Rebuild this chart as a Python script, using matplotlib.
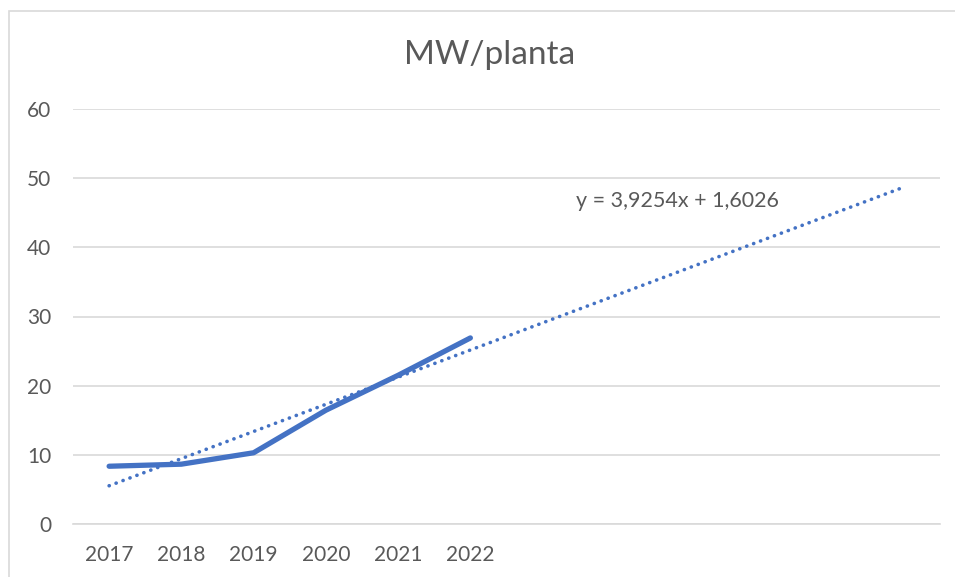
import matplotlib
matplotlib.use("Agg")
import matplotlib.pyplot as plt
import numpy as np
from matplotlib.patches import Rectangle

years = ["2017", "2018", "2019", "2020", "2021", "2022"]
mw_planta = [8.35, 8.65, 10.3, 16.45, 21.5, 26.9]
trend_slope = 3.9254
trend_intercept = 1.6026
trend_forward = 6
title = "MW/planta"
equation_label = "y = 3,9254x + 1,6026"

plt.rcParams['font.family'] = ['Lato', 'DejaVu Sans']
text_color = "#595959"
line_color = "#4472C4"
grid_color = "#D9D9D9"

W, H = 955, 577
fig = plt.figure(figsize=(W / 100, H / 100), dpi=100)
fig.patch.set_facecolor("white")

# chart border
fig.add_artist(Rectangle((9 / W, -0.1), 1.2, 1 - 10.5 / H + 0.1, transform=fig.transFigure,
                         fill=False, edgecolor=grid_color, linewidth=1.2))

ax = fig.add_axes([73 / W, 1 - 524 / H, (940 - 73) / W, (524 - 109) / H])

n = len(years)
x = np.arange(1, n + 1)
ax.plot(x, mw_planta, color=line_color, linewidth=3.8, solid_capstyle='round',
        solid_joinstyle='round', zorder=3)

xt = np.linspace(1, n + trend_forward, 200)
yt = trend_slope * xt + trend_intercept
ax.plot(xt, yt, color=line_color, linewidth=2.6, linestyle=(0, (0.05, 2.0)),
        dash_capstyle='round', zorder=2)

ax.set_xlim(0.5, n + trend_forward + 0.5)
ax.set_ylim(0, 60)
ax.set_yticks(np.arange(0, 61, 10))
ax.set_xticks(x)
ax.set_xticklabels(years)
ax.grid(axis='y', color=grid_color, linewidth=1.2)
ax.set_axisbelow(True)
for s in ['top', 'right', 'left']:
    ax.spines[s].set_visible(False)
ax.spines['bottom'].set_color(grid_color)
ax.spines['bottom'].set_linewidth(1.2)
ax.tick_params(axis='both', length=0, labelsize=15, colors=text_color)
ax.tick_params(axis='y', pad=15.5)
ax.tick_params(axis='x', pad=15)

fig.text(490 / W, 1 - 55 / H, title, ha='center', va='center', fontsize=24, color=text_color)
ax.text(576 / W, 1 - 201 / H, equation_label, transform=fig.transFigure, ha='left', va='center',
        fontsize=15.5, color=text_color)

fig.savefig("out.png", dpi=100)
